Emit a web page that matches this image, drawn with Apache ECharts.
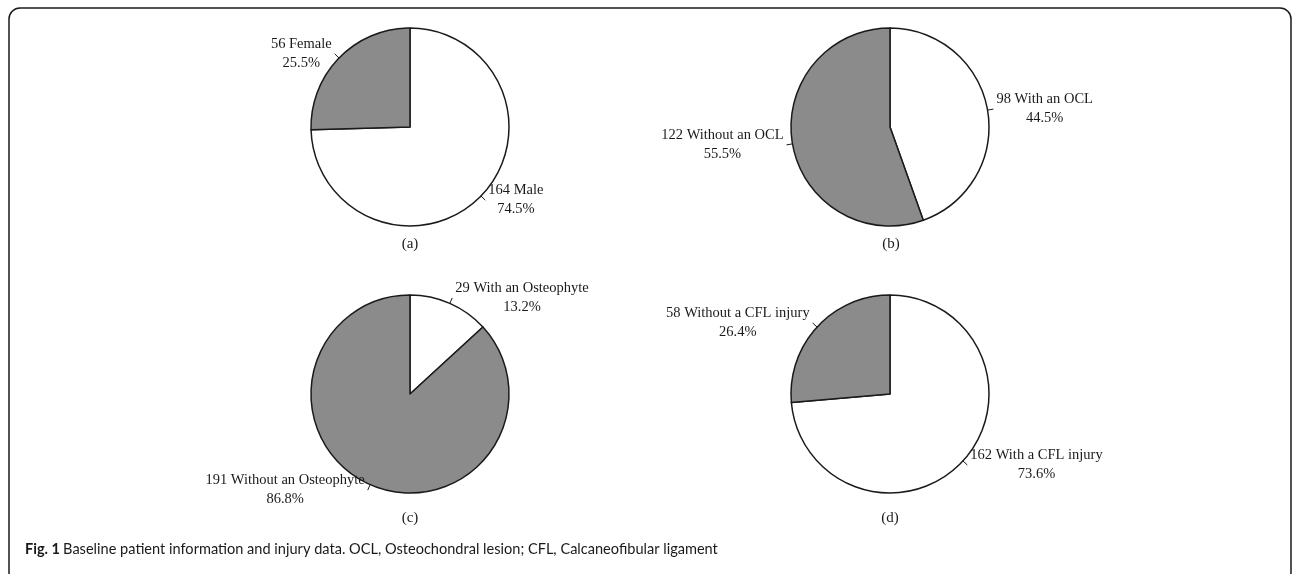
<!DOCTYPE html>
<html>
<head>
    <meta charset="UTF-8">
    <title>Fig. 1</title>
    <style>
        *{
            margin: 0;
            padding: 0;
        }
        html,body{
            background: #fff;
        }
        .container{
            width: 1292px;
            height: 574px;
        }
    </style>
    <script src="https://cdn.jsdelivr.net/npm/echarts@6/dist/echarts.min.js"></script>
</head>
<body>
<div class="container"></div>
<script>
    // one small pair of arrays per pie
    let sexNames = ['Male', 'Female']
    let sexValues = [164, 56]
    let oclNames = ['With an OCL', 'Without an OCL']
    let oclValues = [98, 122]
    let osteoNames = ['With an Osteophyte', 'Without an Osteophyte']
    let osteoValues = [29, 191]
    let cflNames = ['With a CFL injury', 'Without a CFL injury']
    let cflValues = [162, 58]
    let panelTags = ['(a)', '(b)', '(c)', '(d)']

    let container = document.querySelector('.container')
    let mychart = echarts.init(container)

    let serif = '"Liberation Serif", "Times New Roman", serif'

    function makePie(names, values, center) {
        return {
            type: 'pie',
            center: center,
            radius: 99,
            startAngle: 90,
            clockwise: true,
            avoidLabelOverlap: false,
            percentPrecision: 1,
            silent: true,
            color: ['#ffffff', '#8b8b8b'],
            data: names.map((n, i) => ({name: n, value: values[i]})),
            itemStyle: {
                borderColor: '#1a1a1a',
                borderWidth: 1.5
            },
            label: {
                show: true,
                position: 'outside',
                distanceToLabelLine: 3,
                formatter: '{t|{c} {b}}\n{t|{d}%}',
                color: '#1a1a1a',
                fontFamily: serif,
                fontSize: 14.5,
                lineHeight: 19,
                rich: {
                    t: {
                        align: 'center',
                        color: '#1a1a1a',
                        fontFamily: serif,
                        fontSize: 14.5,
                        lineHeight: 19
                    }
                }
            },
            labelLine: {
                show: true,
                length: 6,
                length2: 0,
                lineStyle: {color: '#1a1a1a', width: 1}
            },
            emphasis: {disabled: true}
        }
    }

    let tagPos = [[410, 244], [891, 244], [410, 518], [890, 518]]
    let graphics = [{
        type: 'rect',
        shape: {x: 9, y: 8, width: 1282, height: 575, r: 11},
        style: {fill: 'none', stroke: '#1a1a1a', lineWidth: 1.5},
        silent: true
    }]
    panelTags.forEach((t, i) => {
        graphics.push({
            type: 'text',
            x: tagPos[i][0],
            y: tagPos[i][1],
            style: {
                text: t,
                font: '15px ' + serif,
                fill: '#1a1a1a',
                textAlign: 'center',
                textVerticalAlign: 'middle'
            }
        })
    })
    // caption font is a condensed sans, so squeeze Lato a little
    graphics.push({
        type: 'text',
        x: 25,
        y: 549,
        scaleX: 0.91,
        style: {
            rich: {
                b: {fontFamily: 'Lato', fontWeight: 'bold', fontSize: 16, fill: '#1a1a1a'},
                n: {fontFamily: 'Lato', fontSize: 16, fill: '#1a1a1a'}
            },
            text: '{b|Fig. 1} {n|Baseline patient information and injury data. OCL, Osteochondral lesion; CFL, Calcaneofibular ligament}',
            textVerticalAlign: 'middle'
        }
    })

    let option = {
        backgroundColor: '#ffffff',
        animation: false,
        graphic: graphics,
        series: [
            makePie(sexNames, sexValues, [410, 127]),
            makePie(oclNames, oclValues, [890, 127]),
            makePie(osteoNames, osteoValues, [410, 394]),
            makePie(cflNames, cflValues, [890, 394])
        ]
    }
    mychart.setOption(option)
</script>
</body>
</html>
